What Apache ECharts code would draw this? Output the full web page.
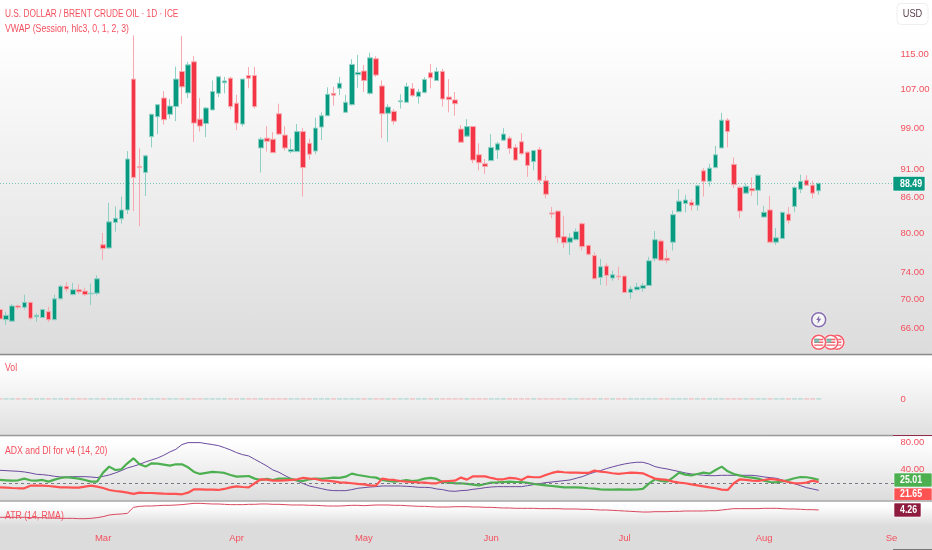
<!DOCTYPE html>
<html><head><meta charset="utf-8">
<script src="https://cdn.jsdelivr.net/npm/echarts@6/dist/echarts.min.js"></script>
<style>
html,body{margin:0;padding:0;width:932px;height:550px;overflow:hidden}
#c{width:932px;height:550px;background:linear-gradient(180deg,#fff 0,#fff 30px,#dcdcdc 354px,#fff 356px,#fff 365px,#e0e0e0 435px,#fff 437px,#fff 442px,#dcdcdc 500px,#fff 502px,#fff 506px,#dcdcdc 526px,#dcdcdc 550px)}
</style></head><body><div id="c"></div>
<script>
// [open, close, low, high] per session
const candles=[
[68.6,67.3,67.2,68.8],[67.2,67.8,66.5,68.3],[67.0,69.1,67.0,69.4],[69.1,68.9,68.6,69.3],[68.9,69.6,68.6,70.7],[69.6,67.4,67.1,69.7],[67.6,67.8,66.9,68.1],[67.5,68.6,67.4,68.7],[68.3,67.2,66.9,69.0],[67.2,70.1,67.2,70.7],
[70.1,71.9,70.0,72.1],[71.9,71.5,71.1,72.5],[70.7,71.4,70.6,72.4],[71.4,71.1,70.8,72.2],[71.2,70.7,70.5,71.7],[70.8,70.9,69.2,72.3],[70.9,73.0,70.6,73.5],[78.2,77.6,75.8,80.1],[77.7,81.9,77.5,85.1],[81.8,82.5,80.3,84.5],
[82.4,83.9,81.6,86.2],[83.9,93.0,83.2,94.5],[109.3,89.6,83.7,119.4],[91.6,91.4,81.2,95.0],[90.5,93.6,86.3,93.8],[97.3,101.8,95.2,101.9],[101.3,103.8,97.8,103.9],[105.2,100.7,99.7,106.7],[101.8,103.5,100.9,105.0],[103.4,109.3,100.4,112.1],
[111.0,107.6,104.0,119.3],[106.3,112.5,105.2,113.2],[113.2,100.0,96.3,114.5],[100.8,99.4,98.3,105.2],[99.9,103.1,97.2,103.3],[102.7,106.6,102.7,109.0],[106.2,109.8,105.4,109.9],[108.5,108.9,106.2,109.8],[109.5,103.4,102.8,109.8],[104.1,100.0,98.6,105.9],
[99.8,109.3,99.3,109.3],[110.1,109.5,107.3,112.0],[110.1,103.4,103.0,112.0],[95.1,96.8,90.5,97.2],[97.0,96.4,94.4,99.4],[96.8,94.2,94.2,98.2],[101.9,97.8,97.6,104.0],[97.6,95.1,94.6,99.4],[94.4,94.8,94.1,96.9],[94.4,98.3,94.4,99.8],
[98.3,91.4,86.2,99.0],[96.0,93.9,92.9,96.9],[94.5,99.0,93.9,101.1],[99.2,101.5,96.6,102.2],[101.5,106.0,101.5,107.5],[106.2,105.8,103.6,107.6],[107.3,108.4,105.8,109.8],[102.2,104.3,102.1,105.9],[103.8,112.6,103.6,113.8],[110.3,110.8,107.4,114.8],
[111.1,109.0,106.5,112.5],[106.2,114.1,105.9,115.3],[113.9,110.2,109.8,114.5],[107.8,101.9,97.0,109.0],[102.0,103.3,96.3,103.9],[102.4,100.4,99.7,102.9],[104.4,104.6,103.0,106.0],[104.3,107.7,104.2,108.5],[107.2,105.7,105.5,108.4],[105.5,106.5,104.0,107.1],
[106.4,109.2,106.2,109.7],[110.7,109.6,107.3,112.7],[109.0,111.0,109.0,111.9],[111.0,105.0,103.4,111.6],[105.4,104.9,102.2,109.3],[104.8,104.0,101.5,106.5],[98.8,96.2,96.1,99.6],[97.4,99.3,97.2,100.8],[99.3,92.8,92.2,99.3],[93.8,92.3,90.9,96.0],
[92.1,91.6,90.2,93.0],[92.7,95.2,92.6,97.8],[94.7,95.9,93.0,96.3],[96.6,97.8,96.5,99.0],[97.0,95.0,94.0,97.4],[95.2,92.8,92.7,95.8],[96.3,94.0,93.8,98.0],[94.3,91.8,89.7,94.4],[92.5,94.6,90.9,94.7],[94.8,89.1,88.6,95.3],
[89.0,86.6,85.9,89.9],[83.4,83.2,82.5,84.4],[83.7,79.3,78.5,83.7],[79.5,78.5,77.7,82.9],[78.6,79.3,76.6,80.0],[79.0,80.3,78.9,80.8],[81.6,77.9,77.3,81.8],[78.1,76.7,76.5,78.1],[76.5,73.0,73.0,77.0],[73.2,74.8,72.1,76.0],
[74.9,73.5,72.0,75.3],[73.1,73.6,72.7,74.2],[73.4,73.3,72.8,74.8],[73.4,71.0,70.9,73.4],[71.0,71.5,70.1,71.9],[71.4,71.8,71.3,72.4],[71.6,72.0,71.1,72.4],[72.0,75.7,72.0,76.3],[76.0,79.0,75.6,80.4],[78.8,75.8,75.7,79.1],
[76.1,75.8,75.3,77.4],[78.6,83.1,77.3,83.8],[83.6,85.4,83.5,87.5],[85.0,85.6,83.5,86.5],[85.2,84.7,83.8,85.7],[84.7,88.1,83.8,88.3],[90.8,88.9,86.2,91.3],[88.9,91.3,88.0,92.1],[91.4,93.8,91.3,95.5],[95.1,100.6,95.1,102.1],
[100.6,98.3,95.2,101.0],[92.0,88.3,87.7,93.3],[87.8,83.7,82.5,88.0],[86.8,88.0,86.8,88.5],[87.6,87.2,86.3,89.6],[87.3,90.0,84.7,90.2],[82.7,83.5,82.6,84.6],[83.9,78.6,78.6,86.3],[78.6,79.3,78.2,80.9],[79.2,83.5,79.1,83.6],
[83.2,82.1,81.6,84.4],[84.5,87.8,83.5,88.0],[87.5,88.9,86.8,90.1],[89.1,88.2,88.1,90.0],[88.2,86.8,85.9,89.0],[87.2,88.49,86.5,88.7]];
const volume=[0,0,0,0,0,0,0,0,0,0,0,0,0,0,0,0,0,0,0,0,0,0,0,0,0,0,0,0,0,0,0,0,0,0,0,0,0,0,0,0,0,0,0,0,0,0,0,0,0,0,0,0,0,0,0,0,0,0,0,0,0,0,0,0,0,0,0,0,0,0,0,0,0,0,0,0,0,0,0,0,0,0,0,0,0,0,0,0,0,0,0,0,0,0,0,0,0,0,0,0,0,0,0,0,0,0,0,0,0,0,0,0,0,0,0,0,0,0,0,0,0,0,0,0,0,0,0,0,0,0,0,0,0,0,0,0];
const diPlus=[24.9,24.4,23.9,24.4,26.9,24.4,23.9,24.9,22.4,25.4,27.9,28.9,27.9,26.9,24.9,22.4,22.4,35.8,44.7,39.7,40.7,49.6,57,48.1,44.7,49.6,49.1,47.6,46.1,48.1,48.1,43.7,36.8,33.8,35.3,36.8,36.3,35.3,32.3,29.8,30.3,30.8,26.9,24.9,26.4,24.9,26.9,26.9,26.4,24.4,23.4,25.9,26.9,26.4,27.4,28.4,27.9,29.8,34.3,32.3,30.8,29.3,28.4,24.9,23.4,22.4,23.4,24.9,23.4,24.4,26.9,27.9,26.4,21.9,21,20,20,
19,18,17,19,21,21.4,21.9,22.4,21.9,21.9,20.5,19,18,17,16,15,14,14,14,13.5,12.6,12.1,11.1,10.6,10.6,11.1,10.6,10.6,10.8,11.6,19.5,25.9,23.4,22.4,28.9,35.8,32.8,31.8,33.8,35.8,34.3,39.7,44.7,37.7,33.8,31.3,29.3,28.4,26.9,23.9,21.9,21.4,22.9,24.9,27.4,29.3,28.9,27.4,25.01];
const diMinus=[14,13.5,13,12.6,12.6,16.5,16.5,16.5,16,15,14,14,13.5,13.5,15,16.5,15,13,10.1,8.6,7.6,6.1,4.2,6.1,5.6,5.6,5.1,4.6,4.4,4.2,3.7,6.1,11.1,11.1,10.6,10.6,10.1,11.6,14,15.5,14.5,14,20,25.9,25.4,23.9,23.9,24.4,24.9,25.9,27.9,26.9,26.4,24.4,23.9,22.9,21.4,21,20,19,18.5,17,16.5,26.9,25.4,24.9,23.4,22.4,21.9,21.4,21,20,20,22.9,23.4,23.9,28.4,
25.4,30.3,30.3,30.3,27.9,25.9,25.9,27.9,27.4,24.9,29.8,28.9,28.9,32.3,35.3,37.3,36.3,35.8,35.8,35.3,35.3,38.7,37.3,36.3,34.8,33.8,34.8,35.8,35.3,34.8,30.8,26.9,25.9,24.9,22.4,21,20,18.5,17,15.5,14,12.6,10.6,10.1,20,25.9,24.9,23.9,23.4,24.9,26.4,25.4,23.9,21.9,20,20,21,23.9,21.65];
const adx=[39.2,38.7,38.2,37.7,36.8,35.3,33.3,32.8,31.8,30.3,29.3,29.3,29.8,29.8,29.8,29.3,28.4,30.3,32.3,35.3,38.7,42.7,45.2,48.1,51.6,54.5,57.5,61.5,66.4,70.3,77.3,80.2,80.2,80.2,78.7,77.3,75.8,72.8,69.4,65.4,62.4,60.5,55.5,50.6,45.6,39.7,36.3,31.3,26.9,23.4,19.5,16,14,12.1,10.1,9.1,9.1,9.1,10.6,12.6,13.5,14.5,15,16,16,16,16,15.5,15,14,14,13.5,11.6,10.6,8.6,8.1,9.1,9.6,
11.1,12.1,13.5,14.5,15,15,15,15,15,16.5,18,19.5,21,21.9,22.9,23.9,24.9,27.4,29.8,33.3,36.3,38.7,41.7,44.2,46.6,48.6,50.1,51.1,51.1,48.6,44.7,42.7,41.2,39.2,37.3,35.3,33.8,32.8,31.8,31.3,31.3,31.8,31.8,31.8,31.8,31.8,31.8,30.8,29.3,28.4,27.4,24.9,21.9,19.5,16.5,13.5,11.6,9.6];
const atr=[2.30,2.30,2.30,2.30,2.30,2.21,2.21,2.21,2.12,2.12,2.03,2.03,2.03,1.94,1.94,2.03,2.21,2.48,2.92,3.10,3.19,3.37,4.97,5.24,5.33,5.33,5.42,5.51,5.51,5.60,5.69,5.87,6.04,6.04,5.95,5.87,5.87,5.78,5.69,5.69,5.69,5.78,5.78,5.87,5.87,5.78,5.78,5.69,5.60,5.60,5.60,5.51,5.51,5.42,5.33,5.33,5.33,5.42,5.51,5.51,5.42,5.51,5.60,5.60,5.60,5.51,5.51,5.42,5.33,5.24,5.24,5.15,5.06,5.06,5.06,5.15,5.15,5.15,
5.06,5.06,4.97,4.97,4.88,4.80,4.80,4.71,4.71,4.71,4.71,4.62,4.62,4.62,4.62,4.53,4.53,4.53,4.44,4.44,4.35,4.26,4.26,4.17,4.08,3.99,3.90,3.81,3.72,3.72,3.81,3.81,3.81,3.90,3.90,3.99,3.99,3.99,3.99,4.08,4.08,4.26,4.44,4.62,4.62,4.62,4.62,4.62,4.71,4.71,4.71,4.62,4.53,4.53,4.44,4.35,4.35,4.26];
const priceTicks=[115,107,99,91,86,80,74,70,66];
const adxTicks=[80,40];
const volTicks=[0];
const monthIdx=[17,39,60,81,103,126,147];
const monthNames=['Mar','Apr','May','Jun','Jul','Aug','Se'];
const lastPrice=88.49;
const boltPoint=[135,67.2];
const flagPoints=[[138,64.2],[137,64.2],[135,64.2]];
const BANDS=148;

[diPlus,diMinus,adx,atr,volume].forEach((a,k)=>{if(a.length!==candles.length)throw new Error('len '+k+' '+a.length+' vs '+candles.length)});

const cats=Array.from({length:BANDS},(_,i)=>String(i));
const UP='#089981',DOWN='#f23645',TXT='#f4505e';
const FONT='"Liberation Sans",sans-serif';
const gridBase={left:-3,width:897.5,outerBoundsMode:'none',containLabel:false};
const xa=(g,show)=>({type:'category',gridIndex:g,data:cats,boundaryGap:true,axisLine:{show:false},axisTick:{show:false},splitLine:{show:false},
  axisLabel:show?{show:true,interval:i=>monthIdx.includes(i),formatter:v=>monthNames[monthIdx.indexOf(+v)]||'',color:TXT,fontFamily:FONT,fontSize:9.5,margin:3,hideOverlap:false}:{show:false}});
const ya=(g,o,ticks,fmt)=>Object.assign({gridIndex:g,position:'right',scale:false,axisLine:{show:false},axisTick:{show:false},splitLine:{show:false},
  axisLabel:ticks?{show:true,customValues:ticks,formatter:fmt,color:TXT,fontFamily:FONT,fontSize:9.5,margin:6,align:'left'}:{show:false}},o);
const f2=v=>(+v).toFixed(2);

const series=[
 {type:'candlestick',xAxisIndex:0,yAxisIndex:0,data:candles,barWidth:5,animation:false,
  itemStyle:{color:UP,color0:DOWN,borderColor:'#8fd0c4',borderColor0:'#f8a9af',borderColorDoji:'#f8a9af',borderWidth:1},
  markLine:{silent:true,symbol:'none',animation:false,data:[{yAxis:lastPrice}],
   lineStyle:{color:'rgba(8,153,129,.5)',type:[1,2],width:1},label:{show:false}}},
 {type:'bar',xAxisIndex:1,yAxisIndex:1,barWidth:5,barMinHeight:1,animation:false,
  data:volume.map((v,i)=>({value:v,itemStyle:{color:candles[i][1]>=candles[i][0]?UP:DOWN,opacity:.35}}))},
 {type:'line',xAxisIndex:2,yAxisIndex:2,data:adx,symbol:'none',animation:false,z:3,lineStyle:{color:'#6a4a9e',width:1},
  markLine:{silent:true,symbol:'none',animation:false,data:[{yAxis:20}],lineStyle:{color:'#787b86',type:[3,3],width:1},label:{show:false}}},
 {type:'line',xAxisIndex:2,yAxisIndex:2,data:diPlus,symbol:'none',animation:false,z:4,lineStyle:{color:'#4caf50',width:2.2}},
 {type:'line',xAxisIndex:2,yAxisIndex:2,data:diMinus,symbol:'none',animation:false,z:5,lineStyle:{color:'#ff5252',width:2.2}},
 {type:'line',xAxisIndex:3,yAxisIndex:3,data:atr,symbol:'none',animation:false,lineStyle:{color:'#d8485f',width:1}},
 {type:'scatter',xAxisIndex:0,yAxisIndex:0,data:[boltPoint],symbol:'circle',symbolSize:14,animation:false,z:6,
  itemStyle:{color:'#f4f4f4',borderColor:'#6a4a9e',borderWidth:1.5,shadowColor:'#fff',shadowBlur:2}},
 {type:'scatter',xAxisIndex:0,yAxisIndex:0,data:[boltPoint],symbol:'path://M6 0L1 6H4L3 11L9 4H5.5Z',symbolSize:[5,8],animation:false,z:6,itemStyle:{color:'#6a4a9e'}}
];
const stripe='path://M0 0H10V1.6H0ZM0 3.2H10V4.8H0ZM0 6.4H10V8H0Z';
flagPoints.forEach(p=>{
 series.push({type:'scatter',xAxisIndex:0,yAxisIndex:0,data:[p],symbol:'circle',symbolSize:14,animation:false,z:6,itemStyle:{color:'#fff',borderColor:DOWN,borderWidth:1.6,shadowColor:'#fff',shadowBlur:2}});
 series.push({type:'scatter',xAxisIndex:0,yAxisIndex:0,data:[p],symbol:stripe,symbolSize:[9,7],animation:false,z:6,itemStyle:{color:DOWN}});
 series.push({type:'scatter',xAxisIndex:0,yAxisIndex:0,data:[p],symbol:'rect',symbolSize:[5,4],symbolOffset:[-2,-1.6],animation:false,z:6,itemStyle:{color:'#5dbfae'}});
});

const sep=(x1,x2,y,c,w)=>({type:'line',silent:true,z:20,shape:{x1,y1:y,x2,y2:y},style:{stroke:c,lineWidth:w}});
const tag=(x,y,w,h,fill,txt)=>({type:'group',silent:true,z:30,children:[
 {type:'rect',shape:{x,y,width:w,height:h,r:1},style:{fill,stroke:'rgba(255,255,255,.6)',lineWidth:1}},
 {type:'text',x:900,y:y+h/2,scaleX:.84,style:{text:txt,fill:'#fff',font:'bold 10.5px '+FONT,verticalAlign:'middle'}}]});
const legendText=(txt,y,sx)=>({type:'text',silent:true,z:30,x:5,y,scaleX:sx,style:{text:txt,fill:TXT,font:'10px '+FONT,verticalAlign:'middle'}});
const base=[
  legendText('U.S. DOLLAR / BRENT CRUDE OIL · 1D · ICE',14.5,.83),
  legendText('VWAP (Session, hlc3, 0, 1, 2, 3)',29,.87),
  legendText('Vol',368,.87),
  legendText('ADX and DI for v4 (14, 20)',451,.87),
  legendText('ATR (14, RMA)',516,.87),
  sep(0,932,354.5,'#8c8c8c',1.5),
  sep(0,893,435.5,'#9b9b9b',1.5),
  sep(893,932,435.5,'#8e2a4a',1.2),
  sep(0,932,501,'#a8a8a8',1.5),
  sep(893,932,549.5,'#777',1),
  tag(894,473,38,14,'#4caf50','25.01'),
  tag(894,488,38,12.5,'#ff5252','21.65'),
  tag(894,503,27,14,'#8e1c3f','4.26'),
  {type:'group',silent:true,z:30,children:[
   {type:'rect',shape:{x:897,y:3.5,width:31,height:21,r:4},style:{fill:'#fff',stroke:'#eee',lineWidth:1}},
   {type:'text',x:912.5,y:14,scaleX:.88,style:{text:'USD',fill:'#5a3f4c',font:'10.5px '+FONT,align:'center',verticalAlign:'middle'}}]}
];
const chart=echarts.init(document.getElementById('c'),null,{renderer:'canvas'});
chart.setOption({
 animation:false,backgroundColor:'transparent',
 grid:[
  Object.assign({top:0,height:354},gridBase),
  Object.assign({top:355,height:80},gridBase),
  Object.assign({top:436,height:64.5},gridBase),
  Object.assign({top:502,height:28},gridBase)
 ],
 xAxis:[xa(0,false),xa(1,false),xa(2,false),xa(3,true)],
 yAxis:[
  ya(0,{type:'log',min:62.7,max:128.26},priceTicks,f2),
  ya(1,{type:'value',min:-0.8,max:1},volTicks,v=>'0'),
  ya(2,{type:'value',min:-5.5,max:90},adxTicks,f2),
  ya(3,{type:'value',min:-1.09,max:6.4},null,null)
 ],
 series,
 graphic:base
});
const py=chart.convertToPixel({yAxisIndex:0},lastPrice);
chart.setOption({graphic:base.concat([tag(893,py-7.2,32,14.6,UP,lastPrice.toFixed(2))])});
</script></body></html>
